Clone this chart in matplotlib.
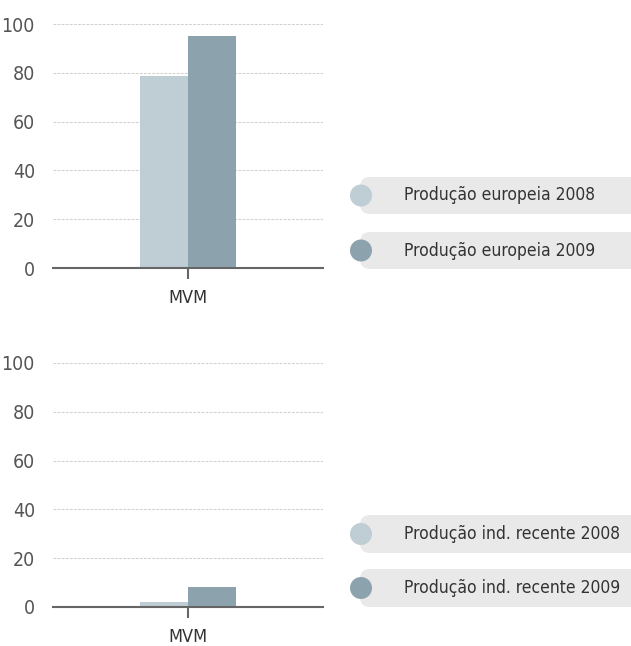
import matplotlib
matplotlib.use('Agg')
import matplotlib.pyplot as plt
from matplotlib.patches import FancyBboxPatch, Circle

plt.rcParams['font.family'] = ['DejaVu Sans']
plt.rcParams['font.stretch'] = 'condensed'

# data
categories = ['MVM']
europe_2008 = [78.5]
europe_2009 = [95.0]
recent_2008 = [2.0]
recent_2009 = [8.2]
labels_top = ['Produção europeia 2008', 'Produção europeia 2009']
labels_bottom = ['Produção ind. recente 2008', 'Produção ind. recente 2009']
yticks = [0, 20, 40, 60, 80, 100]

c08 = '#bfcdd4'
c09 = '#8ca3ae'
colors = [c08, c09]

W, H = 631, 646
fig = plt.figure(figsize=(W / 100, H / 100), dpi=100)


def bar_panel(rect, s08, s09):
    ax = fig.add_axes(rect)
    x = range(len(categories))
    w = 0.178
    ax.bar([i - w / 2 for i in x], s08, width=w, color=c08, zorder=2)
    ax.bar([i + w / 2 for i in x], s09, width=w, color=c09, zorder=2)
    ax.set_xlim(-0.5, 0.5)
    ax.set_ylim(0, 100)
    ax.set_xticks(list(x))
    ax.set_xticklabels(categories, fontsize=13, color='#333333')
    ax.set_yticks(yticks)
    ax.set_yticklabels([str(t) for t in yticks], fontsize=14, color='#555555')
    ax.tick_params(axis='y', length=0, pad=13)
    ax.tick_params(axis='x', length=8, width=1.5, color='#666666', pad=7)
    ax.grid(axis='y', color='#d2d2d2', linestyle=(0, (2.5, 1.2)), linewidth=0.8, zorder=0)
    for s in ['left', 'right', 'top']:
        ax.spines[s].set_visible(False)
    ax.spines['bottom'].set_color('#666666')
    ax.spines['bottom'].set_linewidth(1.5)
    ax.spines['bottom'].set_zorder(3)
    return ax


bar_panel([53 / W, 1 - 268 / H, 270 / W, 244 / H], europe_2008, europe_2009)
bar_panel([53 / W, 1 - 607 / H, 270 / W, 244 / H], recent_2008, recent_2009)

# legend boxes drawn in pixel coordinates
lax = fig.add_axes([0, 0, 1, 1])
lax.set_xlim(0, W)
lax.set_ylim(H, 0)
lax.axis('off')


def legend_item(ytop, ybot, text, color):
    box = FancyBboxPatch((360, ytop), 290, ybot - ytop,
                         boxstyle='round,pad=0,rounding_size=10',
                         facecolor='#e9e9e9', edgecolor='none')
    lax.add_patch(box)
    yc = (ytop + ybot) / 2
    lax.add_patch(Circle((361, yc), 11, facecolor=color, edgecolor='none'))
    lax.text(404, yc, text, fontsize=12.5, color='#333333', va='center', ha='left')


for (yt, yb), lbl, col in zip([(177, 214), (232, 269)], labels_top, colors):
    legend_item(yt, yb, lbl, col)
for (yt, yb), lbl, col in zip([(515, 553), (569, 607)], labels_bottom, colors):
    legend_item(yt, yb, lbl, col)

fig.savefig('out.png', dpi=100)
